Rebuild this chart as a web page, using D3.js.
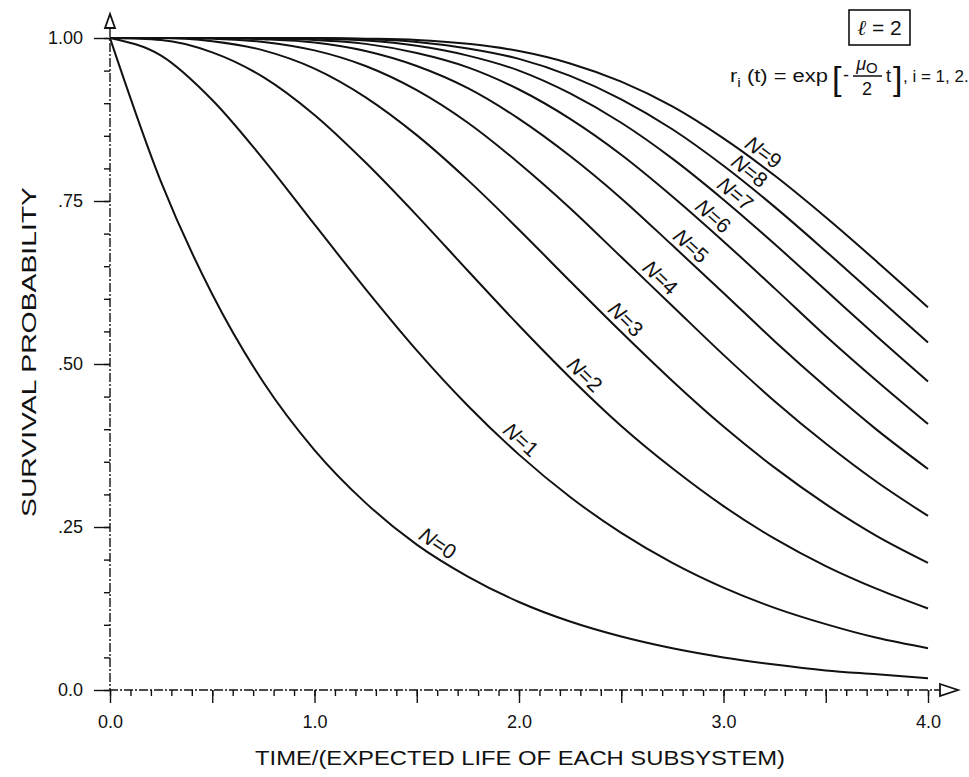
<!DOCTYPE html>
<html><head><meta charset="utf-8">
<script src="https://cdn.jsdelivr.net/npm/d3@7"></script>
<style>body{margin:0;background:#fff}svg{display:block}</style>
</head><body>
<svg id="chart" width="969" height="777"></svg>
<script>
// ---- data ----
const times = [0, 0.25, 0.5, 0.75, 1.0, 1.25, 1.5, 1.75, 2.0, 2.25, 2.5, 2.75, 3.0, 3.25, 3.5, 3.75, 4.0];
const survivalN0 = [1, .779, .607, .472, .368, .287, .223, .174, .135, .105, .082, .064, .050, .039, .030, .024, .018];
const survivalN1 = [1, .973, .905, .814, .714, .615, .521, .436, .361, .296, .241, .195, .157, .126, .101, .080, .064];
const survivalN2 = [1, .997, .978, .940, .882, .809, .728, .643, .559, .479, .405, .340, .282, .232, .190, .155, .125];
const survivalN3 = [1, 1.000, .995, .981, .953, .909, .851, .782, .706, .627, .549, .474, .404, .341, .285, .236, .195];
const survivalN4 = [1, 1, .999, .994, .981, .957, .920, .870, .808, .739, .664, .589, .514, .443, .378, .319, .267];
const survivalN5 = [1, 1, 1.000, .998, .993, .980, .957, .923, .876, .819, .754, .682, .609, .535, .465, .399, .339];
const survivalN6 = [1, 1, 1, .999, .997, .991, .977, .955, .921, .876, .821, .757, .688, .616, .543, .474, .408];
const survivalN7 = [1, 1, 1, 1.000, .999, .996, .988, .973, .950, .915, .870, .815, .752, .684, .613, .542, .473];
const survivalN8 = [1, 1, 1, 1, 1.000, .998, .994, .984, .968, .942, .906, .860, .804, .741, .673, .603, .533];
const survivalN9 = [1, 1, 1, 1, 1.000, .999, .997, .991, .980, .961, .933, .895, .846, .789, .725, .657, .587];
const seriesNames = ["0", "1", "2", "3", "4", "5", "6", "7", "8", "9"];
const labelTimes = [1.57, 1.97, 2.28, 2.48, 2.65, 2.80, 2.91, 3.02, 3.09, 3.16];
const xTickLabels = ["0.0", "1.0", "2.0", "3.0", "4.0"];
const xTickValues = [0, 1, 2, 3, 4];
const yTickLabels = ["0.0", ".25", ".50", ".75", "1.00"];
const yTickValues = [0, 0.25, 0.5, 0.75, 1.0];

const allSeries = [survivalN0, survivalN1, survivalN2, survivalN3, survivalN4,
                   survivalN5, survivalN6, survivalN7, survivalN8, survivalN9];

// ---- layout ----
const svg = d3.select("#chart");
const x = d3.scaleLinear().domain([0, 4]).range([110, 928]);
const y = d3.scaleLinear().domain([0, 1]).range([690, 38]);
const FONT = "'Liberation Sans', Arial, sans-serif";
const ink = "#111";

function styleAxis(g) {
  g.select(".domain").remove();
  g.selectAll(".tick line").attr("stroke", ink).attr("stroke-width", 1.4);
  g.selectAll(".tick text").attr("fill", ink).attr("font-family", FONT);
}
const xMinor = d3.range(0, 4.0001, 0.1).map(v => +v.toFixed(2));
const xMajor = d3.range(0, 4.0001, 0.5);
svg.append("g").attr("transform", "translate(0,690)")
  .call(d3.axisBottom(x).tickValues(xMinor).tickSize(6).tickFormat(""))
  .call(styleAxis);
svg.append("g").attr("transform", "translate(0,690)")
  .call(d3.axisBottom(x).tickValues(xMajor).tickSize(13).tickFormat(""))
  .call(styleAxis);
svg.append("g").attr("transform", "translate(0,690)")
  .call(d3.axisBottom(x).tickValues(xTickValues).tickSize(0).tickPadding(25)
        .tickFormat((d, i) => xTickLabels[i]))
  .call(styleAxis)
  .call(g => g.selectAll(".tick text").attr("font-size", 18));

const yMinor = d3.range(0, 1.0001, 0.05).map(v => +v.toFixed(2));
svg.append("g").attr("transform", "translate(110,0)")
  .call(d3.axisLeft(y).tickValues(yMinor).tickSize(6).tickFormat(""))
  .call(styleAxis);
svg.append("g").attr("transform", "translate(110,0)")
  .call(d3.axisLeft(y).tickValues(yTickValues).tickSize(16).tickPadding(11)
        .tickFormat((d, i) => yTickLabels[i]))
  .call(styleAxis)
  .call(g => g.selectAll(".tick text").attr("font-size", 18));

// axis lines (dash-dot look of the reproduction)
svg.append("line").attr("x1", 110).attr("x2", 110).attr("y1", 28).attr("y2", 691)
  .attr("stroke", ink).attr("stroke-width", 1.4).attr("stroke-dasharray", "9 2 2 2");
svg.append("line").attr("x1", 109).attr("x2", 940).attr("y1", 690).attr("y2", 690)
  .attr("stroke", ink).attr("stroke-width", 1.4).attr("stroke-dasharray", "9 2 2 2");
svg.append("path").attr("d", "M110,14 L105,28 L115,28 Z")
  .attr("fill", "#fff").attr("stroke", ink).attr("stroke-width", 1.8);
svg.append("path").attr("d", "M940,684 L958,690 L940,696 Z")
  .attr("fill", "#fff").attr("stroke", ink).attr("stroke-width", 1.8);

// axis titles
svg.append("text").attr("x", 520).attr("y", 765).attr("text-anchor", "middle")
  .attr("font-family", FONT).attr("font-size", 21).attr("fill", ink)
  .attr("textLength", 530).attr("lengthAdjust", "spacingAndGlyphs")
  .text("TIME/(EXPECTED LIFE OF EACH SUBSYSTEM)");
svg.append("text").attr("transform", "translate(36,352) rotate(-90)")
  .attr("text-anchor", "middle")
  .attr("font-family", FONT).attr("font-size", 21).attr("fill", ink)
  .attr("textLength", 330).attr("lengthAdjust", "spacingAndGlyphs")
  .text("SURVIVAL PROBABILITY");

// curves
const line = d3.line().x((d, i) => x(times[i])).y(d => y(d)).curve(d3.curveMonotoneX);
svg.append("g").selectAll("path").data(allSeries).join("path")
  .attr("d", d => line(d)).attr("fill", "none")
  .attr("stroke", ink).attr("stroke-width", 2);

// curve labels placed on the curves
function valueAt(vals, t) {
  const i = Math.max(0, Math.min(times.length - 2, d3.bisectRight(times, t) - 1));
  const f = (t - times[i]) / (times[i + 1] - times[i]);
  return vals[i] + f * (vals[i + 1] - vals[i]);
}
allSeries.forEach((vals, k) => {
  const t = labelTimes[k];
  const px = x(t), py = y(valueAt(vals, t));
  const p1 = [x(t - 0.12), y(valueAt(vals, t - 0.12))];
  const p2 = [x(t + 0.12), y(valueAt(vals, t + 0.12))];
  const ang = Math.atan2(p2[1] - p1[1], p2[0] - p1[0]) * 180 / Math.PI;
  const txt = svg.append("text")
    .attr("transform", `translate(${px},${py}) rotate(${ang})`)
    .attr("x", 0).attr("y", -5).attr("text-anchor", "middle")
    .attr("font-family", FONT).attr("font-size", 21).attr("fill", ink);
  txt.append("tspan").attr("font-style", "italic").text("N");
  txt.append("tspan").text("=" + seriesNames[k]);
});

// annotation box  ℓ = 2
svg.append("rect").attr("x", 849).attr("y", 10).attr("width", 61).attr("height", 35)
  .attr("fill", "none").attr("stroke", ink).attr("stroke-width", 1.6);
const lt = svg.append("text").attr("x", 879.5).attr("y", 35).attr("text-anchor", "middle")
  .attr("font-family", FONT).attr("font-size", 21).attr("fill", ink);
lt.append("tspan").attr("font-family", "'DejaVu Serif', serif").attr("font-style", "italic").text("ℓ");
lt.append("tspan").text(" = 2");

// formula r_i(t) = exp[-(μ0/2) t], i = 1, 2.
const fy = 82;
const ft = svg.append("text").attr("x", 730).attr("y", fy)
  .attr("font-family", FONT).attr("font-size", 18).attr("fill", ink)
  .attr("textLength", 98).attr("lengthAdjust", "spacingAndGlyphs");
ft.append("tspan").text("r");
ft.append("tspan").attr("font-size", 13).attr("dy", 5).text("i");
ft.append("tspan").attr("dy", -5).text(" (t) = exp");
svg.append("text").attr("x", 832).attr("y", fy + 8).attr("font-family", FONT)
  .attr("font-size", 34).attr("font-weight", 300).attr("fill", ink).text("[");
svg.append("text").attr("x", 843).attr("y", fy - 1).attr("font-family", FONT)
  .attr("font-size", 18).attr("fill", ink).text("-");
const mu = svg.append("text").attr("x", 867).attr("y", fy - 12).attr("text-anchor", "middle")
  .attr("font-family", FONT).attr("font-size", 18).attr("fill", ink);
mu.append("tspan").attr("font-style", "italic").text("μ");
mu.append("tspan").attr("font-size", 15).attr("dy", 3).text("O");
svg.append("line").attr("x1", 853).attr("x2", 882).attr("y1", fy - 6).attr("y2", fy - 6)
  .attr("stroke", ink).attr("stroke-width", 1.5);
svg.append("text").attr("x", 867).attr("y", fy + 13).attr("text-anchor", "middle")
  .attr("font-family", FONT).attr("font-size", 18).attr("fill", ink).text("2");
svg.append("text").attr("x", 886).attr("y", fy).attr("font-family", FONT)
  .attr("font-size", 18).attr("fill", ink).text("t");
svg.append("text").attr("x", 893).attr("y", fy + 8).attr("font-family", FONT)
  .attr("font-size", 34).attr("font-weight", 300).attr("fill", ink).text("]");
svg.append("text").attr("x", 903).attr("y", fy).attr("font-family", FONT)
  .attr("font-size", 17).attr("fill", ink)
  .text(", i = 1, 2.");
</script>
</body></html>
